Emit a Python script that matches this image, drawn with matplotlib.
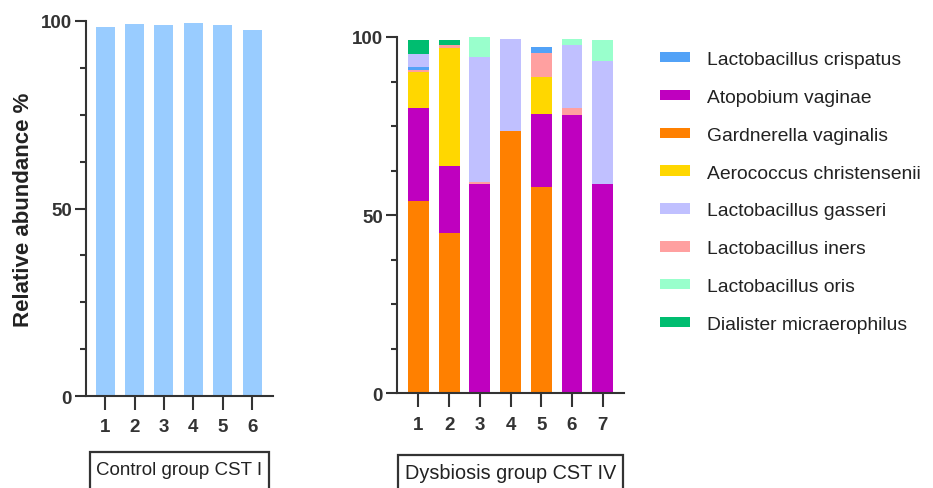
import matplotlib
matplotlib.use("Agg")
import matplotlib.pyplot as plt
import matplotlib.patches as mpatches
from matplotlib.ticker import MultipleLocator
import numpy as np

plt.rcParams["font.family"] = ["Liberation Sans", "DejaVu Sans"]

# ---------- Data ----------
control_samples = ["1", "2", "3", "4", "5", "6"]
control_values = [98.3, 99.1, 98.9, 99.5, 99.0, 97.6]

dysbiosis_samples = ["1", "2", "3", "4", "5", "6", "7"]

# stacked bottom -> top
stack_order = [
    "Gardnerella vaginalis",
    "Atopobium vaginae",
    "Aerococcus christensenii",
    "Lactobacillus iners",
    "Lactobacillus crispatus",
    "Lactobacillus gasseri",
    "Lactobacillus oris",
    "Dialister micraerophilus",
]
gardnerella = [54.1, 45.1, 0.0, 73.5, 57.9, 0.0, 0.0]
atopobium = [25.9, 18.8, 58.7, 0.0, 20.6, 78.1, 58.8]
aerococcus = [10.1, 33.0, 0.0, 0.0, 10.2, 0.0, 0.0]
iners = [0.7, 0.9, 0.7, 0.0, 6.9, 2.1, 0.0]
crispatus = [0.7, 0.0, 0.0, 0.0, 1.5, 0.0, 0.0]
gasseri = [3.8, 0.0, 34.9, 26.0, 0.0, 17.5, 34.6]
oris = [0.0, 0.0, 5.7, 0.0, 0.0, 1.8, 5.7]
dialister = [3.9, 1.4, 0.0, 0.0, 0.0, 0.0, 0.0]

legend_order = [
    "Lactobacillus crispatus",
    "Atopobium vaginae",
    "Gardnerella vaginalis",
    "Aerococcus christensenii",
    "Lactobacillus gasseri",
    "Lactobacillus iners",
    "Lactobacillus oris",
    "Dialister micraerophilus",
]

colors = {
    "Lactobacillus crispatus": "#52A2F7",
    "Atopobium vaginae": "#BF00BF",
    "Gardnerella vaginalis": "#FF8000",
    "Aerococcus christensenii": "#FFD700",
    "Lactobacillus gasseri": "#C0C0FF",
    "Lactobacillus iners": "#FFA0A0",
    "Lactobacillus oris": "#99FFCC",
    "Dialister micraerophilus": "#00BD70",
}
stack_values = {
    "Gardnerella vaginalis": gardnerella,
    "Atopobium vaginae": atopobium,
    "Aerococcus christensenii": aerococcus,
    "Lactobacillus iners": iners,
    "Lactobacillus crispatus": crispatus,
    "Lactobacillus gasseri": gasseri,
    "Lactobacillus oris": oris,
    "Dialister micraerophilus": dialister,
}

AX_COLOR = "#333333"
W, H = 933, 489


def style_axis(ax, xlim):
    ax.set_ylim(0, 100)
    ax.set_xlim(*xlim)
    for s in ["top", "right"]:
        ax.spines[s].set_visible(False)
    for s in ["left", "bottom"]:
        ax.spines[s].set_linewidth(1.5)
        ax.spines[s].set_color(AX_COLOR)
    ax.yaxis.set_major_locator(MultipleLocator(50))
    ax.yaxis.set_minor_locator(MultipleLocator(12.5))
    ax.tick_params(axis="y", which="major", length=8, width=1.5, color=AX_COLOR,
                   labelsize=13.5, labelcolor=AX_COLOR, pad=2)
    ax.tick_params(axis="y", which="minor", length=4.5, width=1.5, color=AX_COLOR)
    ax.tick_params(axis="x", which="major", length=10, width=1.5, color=AX_COLOR,
                   labelsize=13.5, labelcolor=AX_COLOR, pad=6)
    for lab in ax.get_xticklabels() + ax.get_yticklabels():
        lab.set_fontweight("bold")


fig = plt.figure(figsize=(W / 100, H / 100), dpi=100)

# ---------- Control panel ----------
ax1 = fig.add_axes([86 / W, 1 - 397 / H, 187 / W, 375 / H])
x1 = np.arange(1, len(control_samples) + 1)
ax1.bar(x1, control_values, width=0.65, color="#99CCFF")
ax1.set_xticks(x1)
ax1.set_xticklabels(control_samples)
style_axis(ax1, (0.35, 6.71))
ax1.set_ylabel("Relative abundance %", fontsize=16, fontweight="bold",
               color="#222222", labelpad=5)

# ---------- Dysbiosis panel ----------
ax2 = fig.add_axes([397 / W, 1 - 394.3 / H, 226.6 / W, 356.3 / H])
x2 = np.arange(1, len(dysbiosis_samples) + 1)
bottom = np.zeros(len(dysbiosis_samples))
for name in stack_order:
    vals = np.array(stack_values[name])
    ax2.bar(x2, vals, bottom=bottom, width=0.68, color=colors[name])
    bottom += vals
ax2.set_xticks(x2)
ax2.set_xticklabels(dysbiosis_samples)
style_axis(ax2, (0.30, 7.68))

# ---------- Group boxes ----------
def group_box(x0, x1_, ytop, label, ytext, size):
    rect = mpatches.Rectangle((x0 / W, -0.1), (x1_ - x0) / W, 1 - ytop / H + 0.1,
                              transform=fig.transFigure, fill=False,
                              edgecolor=AX_COLOR, linewidth=1.6, clip_on=False)
    fig.patches.append(rect)
    fig.text((x0 + x1_) / 2 / W, 1 - ytext / H, label, ha="center", va="center",
             fontsize=size, color="#222222")


group_box(90, 269, 453, "Control group CST I", 471, 13.5)
group_box(398, 623, 456, "Dysbiosis group CST IV", 474, 14.3)

# ---------- Legend ----------
handles = [mpatches.Patch(facecolor=colors[n], edgecolor="none", label=n)
           for n in legend_order]
fig.legend(handles=handles, loc="upper left",
           bbox_to_anchor=(660 / W, 1 - 52 / H), frameon=False,
           fontsize=13.9, handlelength=1.55, handleheight=0.45,
           handletextpad=0.88, labelspacing=1.08, borderpad=0, borderaxespad=0,
           labelcolor="#222222")

fig.savefig("out.png", dpi=100)
